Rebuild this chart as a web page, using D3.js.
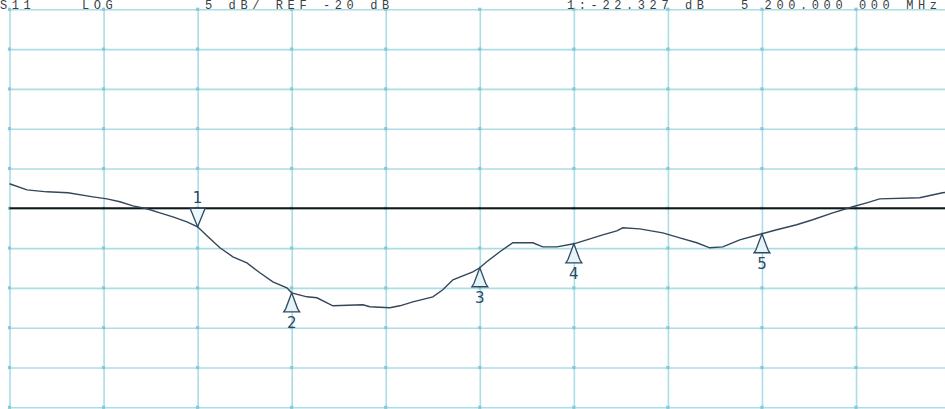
<!DOCTYPE html>
<html>
<head>
<meta charset="utf-8">
<script src="https://cdn.jsdelivr.net/npm/d3@7"></script>
<style>
  html, body { margin: 0; padding: 0; background: #ffffff; }
  svg { display: block; }
</style>
</head>
<body>
<svg id="chart" width="945" height="409"></svg>
<script>
// S11 log-magnitude sweep, 5 dB/div, reference -20 dB
const freqTicks = [5000, 5100, 5200, 5300, 5400, 5500, 5600, 5700, 5800, 5900, 6000]; // MHz
const dbTicks = [5, 0, -5, -10, -15, -20, -25, -30, -35, -40, -45];
const refLevel = -20;

// trace samples
const traceFreq = [5000, 5018.6, 5039.9, 5062.2, 5088.7, 5103.6, 5117.4, 5131.2, 5146.1, 5159.9,
  5173.7, 5188.6, 5200, 5209.9, 5223.7, 5237.5, 5252.4, 5266.2, 5280.0, 5294.9,
  5300, 5316.1, 5326.8, 5343.8, 5375.7, 5383.1, 5404.4, 5415.0, 5428.8, 5450.1,
  5460.7, 5471.4, 5492.6, 5500, 5507.4, 5521.3, 5535.1, 5556.3, 5567.0, 5581.8,
  5600, 5613.7, 5630.7, 5645.6, 5652.0, 5670.0, 5694.5, 5712.6, 5730.7, 5744.5,
  5758.3, 5776.4, 5800, 5815.7, 5836.9, 5853.9, 5875.2, 5896.4, 5911.3, 5925.1,
  5967.6, 5992.0, 6000];
const traceDb = [-16.92, -17.68, -17.93, -18.05, -18.56, -18.81, -19.18, -19.69, -20.06, -20.57,
  -21.07, -21.70, -22.327, -23.45, -24.96, -26.09, -26.85, -28.10, -29.23, -29.99,
  -30.62, -31.12, -31.24, -32.25, -32.12, -32.37, -32.50, -32.25, -31.75, -31.12,
  -30.24, -28.98, -27.98, -27.47, -26.72, -25.46, -24.33, -24.33, -24.84, -24.84,
  -24.46, -23.96, -23.33, -22.83, -22.45, -22.58, -23.08, -23.71, -24.33, -24.96,
  -24.84, -23.96, -23.20, -22.70, -22.07, -21.44, -20.57, -19.81, -19.31, -18.81,
  -18.68, -18.05, -17.95];

// markers
const markerIds = ["1", "2", "3", "4", "5"];
const markerFreq = [5200, 5300, 5500, 5600, 5800];
const markerDb = [-22.327, -30.62, -27.47, -24.46, -23.20];

// header annotation
const headerTexts = ["S11", "LOG", "5 dB/ REF -20 dB", "1:-22.327 dB", "5 200.000 000 MHz"];
const headerX = [0, 82, 205, 567, 741];

const svg = d3.select("#chart");
const margin = { left: 9.5, top: 9.3 };
const width = 940.6, height = 398;

const x = d3.scaleLinear().domain([5000, 6000]).range([0, width]);
const y = d3.scaleLinear().domain([-45, 5]).range([height, 0]);

const g = svg.append("g").attr("transform", `translate(${margin.left},${margin.top})`);

const gridColor = "#abdde6";

// vertical grid
g.append("g")
  .attr("transform", `translate(0,${height})`)
  .call(d3.axisBottom(x).tickValues(freqTicks).tickSize(-height).tickFormat(""))
  .call(a => a.select(".domain").remove())
  .call(a => a.selectAll("line").attr("stroke", gridColor).attr("stroke-width", 1.6));

// horizontal grid
g.append("g")
  .call(d3.axisLeft(y).tickValues(dbTicks).tickSize(-width).tickFormat(""))
  .call(a => a.select(".domain").remove())
  .call(a => a.selectAll("line").attr("stroke", gridColor).attr("stroke-width", 1.6));

// intersection dots
const cross = [];
freqTicks.forEach(f => dbTicks.forEach(d => cross.push([f, d])));
g.append("g").selectAll("rect").data(cross).join("rect")
  .attr("x", d => x(d[0]) - 1.6).attr("y", d => y(d[1]) - 1.6)
  .attr("width", 3.2).attr("height", 3.2)
  .attr("fill", "#86cad6");

// reference line
g.append("line")
  .attr("x1", x(5000)).attr("x2", x(6000))
  .attr("y1", y(refLevel)).attr("y2", y(refLevel))
  .attr("stroke", "#151515").attr("stroke-width", 2);

// trace
const pts = traceFreq.map((f, i) => [f, traceDb[i]]);
g.append("path")
  .datum(pts)
  .attr("fill", "none")
  .attr("stroke", "#33465a")
  .attr("stroke-width", 1.4)
  .attr("d", d3.line().x(d => x(d[0])).y(d => y(d[1])));

// markers
const markerColor = "#2c4a66";
markerIds.forEach((id, i) => {
  const mx = x(markerFreq[i]), my = y(markerDb[i]);
  const mg = g.append("g");
  if (i === 0) {
    // active marker: downward triangle with label above
    const top = y(refLevel);
    mg.append("path")
      .attr("d", `M${mx},${my} L${mx - 7.5},${top} L${mx + 7.5},${top} Z`)
      .attr("fill", "#eef8fa").attr("stroke", markerColor).attr("stroke-width", 1.3);
    mg.append("text")
      .attr("x", mx).attr("y", top - 5)
      .attr("text-anchor", "middle")
      .attr("font-family", "DejaVu Sans, sans-serif").attr("font-size", 15)
      .attr("fill", markerColor).text(id);
  } else {
    const h = 19;
    mg.append("path")
      .attr("d", `M${mx},${my} L${mx - 6},${my + h - 3} L${mx - 8},${my + h} L${mx + 8},${my + h} L${mx + 6},${my + h - 3} Z`)
      .attr("fill", "#e6f4f7").attr("stroke", markerColor).attr("stroke-width", 1.3);
    mg.append("text")
      .attr("x", mx).attr("y", my + h + 16)
      .attr("text-anchor", "middle")
      .attr("font-family", "DejaVu Sans, sans-serif").attr("font-size", 15)
      .attr("fill", markerColor).text(id);
  }
});

// header
svg.append("g").selectAll("text").data(headerTexts).join("text")
  .attr("x", (d, i) => headerX[i]).attr("y", 8.5)
  .attr("font-family", "Liberation Mono, monospace")
  .attr("font-size", 12)
  .attr("letter-spacing", 4.6)
  .attr("fill", "#3a3f45")
  .text(d => d);
</script>
</body>
</html>
